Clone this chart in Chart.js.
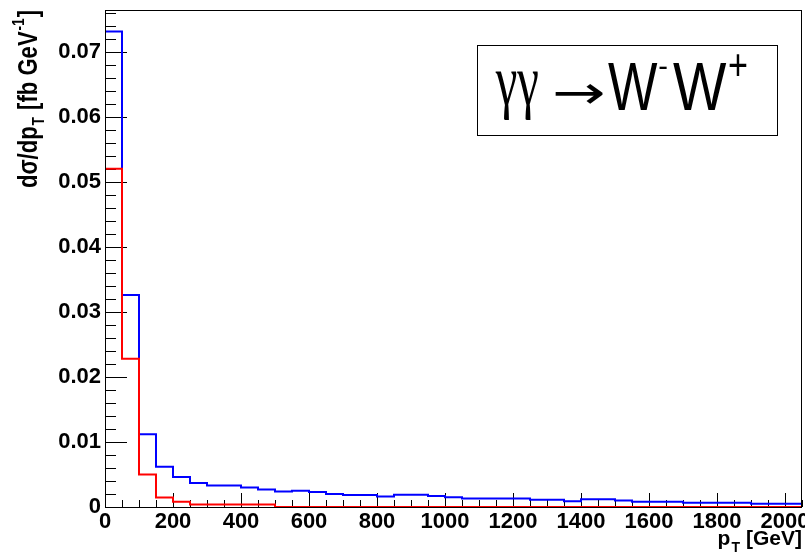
<!DOCTYPE html>
<html><head><meta charset="utf-8">
<script src="https://cdn.jsdelivr.net/npm/chart.js@4.4.0/dist/chart.umd.min.js"></script>
<style>html,body{margin:0;padding:0;background:#fff;} #wrap{width:805px;height:558px;}</style>
</head><body><div id="wrap"><canvas id="c" width="805" height="558"></canvas></div>
<script>
// Left edges of the 50 GeV bins (GeV)
const binEdges = [0,50,100,150,200,250,300,350,400,450,500,550,600,650,700,750,800,850,900,950,
  1000,1050,1100,1150,1200,1250,1300,1350,1400,1450,1500,1550,1600,1650,1700,1750,1800,1850,1900,1950,2000];
const xMax = 2050;
// Blue histogram: dsigma/dpT [fb/GeV]
const blueValues = [0.0731,0.0326,0.0112,0.0062,0.0046,0.0037,0.0033,0.0033,0.0030,0.0027,
  0.0024,0.0025,0.0023,0.0020,0.00185,0.00185,0.0016,0.0019,0.0019,0.0017,
  0.0015,0.0013,0.0013,0.0013,0.0013,0.0011,0.0011,0.0009,0.0012,0.0012,
  0.0010,0.0008,0.0008,0.0008,0.00065,0.00065,0.00065,0.00065,0.0005,0.0005,0.0005];
// Red histogram
const redValues = [0.0520,0.0228,0.0050,0.00145,0.0008,0.0004,0.0004,0.0004,0.0004,0.0004,
  0,0,0,0,0,0,0,0,0,0,0,0,0,0,0,0,0,0,0,0,0,0,0,0,0,0,0,0,0,0,0];
const xTickLabels = [0,200,400,600,800,1000,1200,1400,1600,1800,2000];
const yTickLabels = [0,0.01,0.02,0.03,0.04,0.05,0.06,0.07];
const yMax = 0.0764;

function histPoints(vals){
  const pts = binEdges.map((e,i)=>({x:e, y:vals[i]}));
  pts.push({x:xMax, y:vals[vals.length-1]});
  return pts;
}

// Draw text so that its ink box fills the given rectangle
function fitBox(ctx, txt, font, x0, y0, x1, y1){
  ctx.save();
  ctx.font = font;
  const m = ctx.measureText(txt);
  const iw = m.actualBoundingBoxLeft + m.actualBoundingBoxRight;
  const ih = m.actualBoundingBoxAscent + m.actualBoundingBoxDescent;
  const sx = (x1 - x0) / iw, sy = (y1 - y0) / ih;
  ctx.translate(x0, y0);
  ctx.scale(sx, sy);
  ctx.fillText(txt, m.actualBoundingBoxLeft, m.actualBoundingBoxAscent);
  ctx.restore();
}

const rootPlugin = {
  id: 'rootAxes',
  beforeDatasetsDraw(chart){
    const ctx = chart.ctx, a = chart.chartArea;
    const xs = chart.scales.x, ys = chart.scales.y;
    ctx.save();
    ctx.strokeStyle = '#000';
    ctx.lineWidth = 1;
    ctx.beginPath();
    for (let k = 0; k * 0.002 <= yMax + 1e-9; k++) {
      const v = k * 0.002;
      const py = Math.round(ys.getPixelForValue(v)) + 0.5;
      const len = (k % 5 === 0) ? 22 : 11;
      ctx.moveTo(a.left, py); ctx.lineTo(a.left + len, py);
    }
    for (let k = 0; k * 50 <= xMax; k++) {
      const v = k * 50;
      const px = Math.round(xs.getPixelForValue(v)) + 0.5;
      const len = (k % 4 === 0) ? 14 : 7;
      ctx.moveTo(px, a.bottom); ctx.lineTo(px, a.bottom - len);
    }
    ctx.stroke();
    ctx.restore();
  },
  afterDraw(chart){
    const ctx = chart.ctx, a = chart.chartArea;
    ctx.save();
    ctx.strokeStyle = '#000';
    ctx.lineWidth = 1;
    ctx.strokeRect(Math.round(a.left)+0.5, Math.round(a.top)+0.5, Math.round(a.right - a.left)-1, Math.round(a.bottom - a.top));
    ctx.fillStyle = '#000';
    ctx.textBaseline = 'alphabetic';
    ctx.textAlign = 'left';

    // Y axis title (rotated)
    ctx.save();
    const big = 'bold 27px "Liberation Sans", Arial, sans-serif';
    const small = 'bold 17px "Liberation Sans", Arial, sans-serif';
    const parts = [
      {t:'d\u03c3/dp', f:big, dy:0, gap:0},
      {t:'T', f:small, dy:7, gap:2},
      {t:' [fb GeV', f:big, dy:0, gap:0},
      {t:'-1', f:small, dy:-13, gap:2},
      {t:']', f:big, dy:0, gap:0}
    ];
    let total = 0;
    parts.forEach(p => { ctx.font = p.f; p.w = ctx.measureText(p.t).width; total += p.w + p.gap; });
    const sx = 178 / total;
    ctx.translate(37, 188);
    ctx.rotate(-Math.PI/2);
    ctx.scale(sx, 1);
    let cx = 0;
    parts.forEach(p => { ctx.font = p.f; ctx.fillText(p.t, cx + p.gap/2, p.dy); cx += p.w + p.gap; });
    ctx.restore();

    // X axis title
    ctx.save();
    ctx.textAlign = 'right';
    const xb = 'bold 21px "Liberation Sans", Arial, sans-serif';
    ctx.font = xb;
    const gw = ctx.measureText('[GeV]').width;
    ctx.fillText('[GeV]', 802, 545);
    ctx.font = 'bold 14px "Liberation Sans", Arial, sans-serif';
    ctx.fillText('T', 802 - gw - 6, 552);
    const tw = ctx.measureText('T').width;
    ctx.font = xb;
    ctx.fillText('p', 802 - gw - 6 - tw - 1, 545);
    ctx.restore();

    // Legend box
    ctx.fillStyle = '#fff';
    ctx.fillRect(477.5, 45.5, 300, 90);
    ctx.strokeRect(477.5, 45.5, 300, 90);
    ctx.fillStyle = '#000';
    fitBox(ctx, '\u03b3\u03b3', '64px "Liberation Serif", "DejaVu Serif", serif', 495, 73, 538, 121);
    fitBox(ctx, '\u2192', '64px "DejaVu Sans", sans-serif', 555, 84, 603, 104);
    fitBox(ctx, 'W', '66px "Liberation Sans", Arial, sans-serif', 608, 62, 658, 110);
    fitBox(ctx, '-', '40px "Liberation Sans", Arial, sans-serif', 659, 66, 667, 69);
    fitBox(ctx, 'W', '66px "Liberation Sans", Arial, sans-serif', 673, 62, 727, 110);
    fitBox(ctx, '+', '38px "Liberation Sans", Arial, sans-serif', 729, 54, 747, 77);
    ctx.restore();
  }
};

new Chart(document.getElementById('c'), {
  type: 'line',
  data: {
    datasets: [
      { label: 'red', data: histPoints(redValues), borderColor: '#ff0000', borderWidth: 2,
        pointRadius: 0, fill: false, stepped: 'before', clip: 3 },
      { label: 'blue', data: histPoints(blueValues), borderColor: '#0000ff', borderWidth: 2,
        pointRadius: 0, fill: false, stepped: 'before', clip: 3 }
    ]
  },
  options: {
    responsive: false,
    devicePixelRatio: 1,
    animation: false,
    layout: { padding: { left: 0, top: 10, right: 3, bottom: 0 } },
    plugins: { legend: { display: false }, tooltip: { enabled: false }, title: { display: false } },
    scales: {
      x: {
        type: 'linear', min: 0, max: xMax,
        afterBuildTicks: s => { s.ticks = xTickLabels.map(v => ({value: v})); },
        ticks: { includeBounds: false, maxRotation: 0, autoSkip: false, padding: 2, color: '#000',
          font: { family: '"Liberation Sans", Arial, sans-serif', size: 22, weight: 'bold' },
          callback: v => String(v) },
        grid: { display: false, drawTicks: false },
        border: { display: false },
        afterFit: s => { s.height = 51; s.paddingLeft = 0; s.paddingRight = 0; s.paddingTop = 0; s.paddingBottom = 0; }
      },
      y: {
        type: 'linear', min: 0, max: yMax,
        afterBuildTicks: s => { s.ticks = yTickLabels.map(v => ({value: v})); },
        ticks: { includeBounds: false, autoSkip: false, padding: 4, color: '#000',
          font: { family: '"Liberation Sans", Arial, sans-serif', size: 22, weight: 'bold' },
          callback: v => (v === 0 ? '0' : v.toFixed(2)) },
        grid: { display: false, drawTicks: false },
        border: { display: false },
        afterFit: s => { s.width = 105; s.paddingLeft = 0; s.paddingRight = 0; s.paddingTop = 0; s.paddingBottom = 0; }
      }
    }
  },
  plugins: [rootPlugin]
});
</script>
</body></html>
